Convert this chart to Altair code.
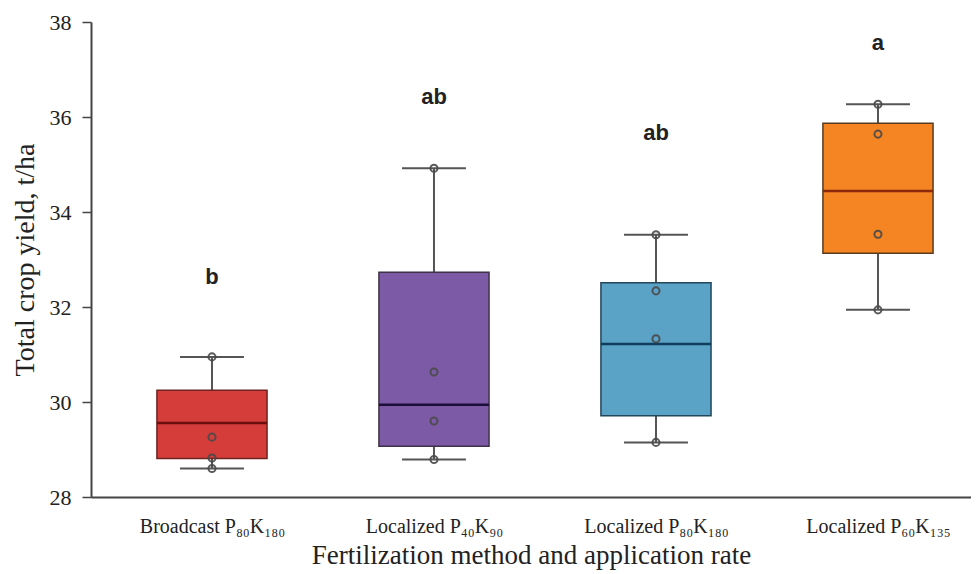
import altair as alt
import pandas as pd

categories = ["Broadcast P₈₀K₁₈₀", "Localized P₄₀K₉₀", "Localized P₈₀K₁₈₀", "Localized P₆₀K₁₃₅"]
lower = [28.60, 28.79, 29.15, 31.94]
q1 = [28.81, 29.07, 29.71, 33.13]
median = [29.56, 29.94, 31.22, 34.44]
q3 = [30.25, 32.73, 32.51, 35.87]
upper = [30.95, 34.92, 33.52, 36.27]
points = [
    [30.95, 29.26, 28.82, 28.60],
    [34.92, 30.63, 29.60, 28.79],
    [33.52, 32.34, 31.33, 29.15],
    [36.27, 35.64, 33.53, 31.94],
]
letters = ["b", "ab", "ab", "a"]
letter_y = [32.63, 36.42, 35.66, 37.56]
fills = ["#d43d3a", "#7d5aa6", "#5ba3c6", "#f58523"]
borders = ["#6e2420", "#3e3248", "#23465a", "#5a3a1e"]
medcols = ["#6a0d0d", "#1e0f3a", "#0d3e5e", "#8b2a0a"]

BOX_HALF = 0.248
CAP_HALF = 0.144

rows = []
for i, c in enumerate(categories):
    p = i + 1
    rows.append(dict(cat=c, pos=p, lo=lower[i], q1=q1[i], med=median[i], q3=q3[i], hi=upper[i],
                     bl=p - BOX_HALF, br=p + BOX_HALF, cl=p - CAP_HALF, cr=p + CAP_HALF,
                     letter=letters[i], ly=letter_y[i]))
df = pd.DataFrame(rows)
pts = pd.DataFrame([dict(cat=categories[i], pos=i + 1, v=v) for i in range(4) for v in points[i]])

xscale = alt.Scale(domain=[0.455, 4.419], nice=False, zero=False)
yscale = alt.Scale(domain=[28, 38], nice=False, zero=False)
color_fill = alt.Scale(domain=categories, range=fills)
color_border = alt.Scale(domain=categories, range=borders)
color_med = alt.Scale(domain=categories, range=medcols)

label_expr = " : ".join(
    [f"datum.value == {i+1} ? '{c}'" for i, c in enumerate(categories)]
) + " : ''"

xaxis = alt.Axis(values=[1, 2, 3, 4], labelExpr=label_expr, ticks=False, grid=False,
                 title="Fertilization method and application rate",
                 labelFont="Liberation Serif", labelFontSize=20, labelColor="#222",
                 labelPadding=19, titleFont="Liberation Serif", titleFontSize=27,
                 titleFontWeight="normal", titleColor="#222", titlePadding=6,
                 domainColor="#444", domainWidth=2)
yaxis = alt.Axis(values=[28, 30, 32, 34, 36, 38], grid=False, tickSize=9, tickColor="#444",
                 tickWidth=1.5, title="Total crop yield, t/ha",
                 labelFont="Liberation Serif", labelFontSize=22, labelColor="#222",
                 labelPadding=11, titleFont="Liberation Serif", titleFontSize=28,
                 titleFontWeight="normal", titleColor="#222", titlePadding=10,
                 domainColor="#444", domainWidth=2)

base = alt.Chart(df)

whisk = base.mark_rule(color="#555", strokeWidth=2).encode(
    x=alt.X("pos:Q", scale=xscale, axis=xaxis),
    y=alt.Y("lo:Q", scale=yscale, axis=yaxis),
    y2="hi:Q",
)
caps_lo = base.mark_rule(color="#555", strokeWidth=2).encode(
    x=alt.X("cl:Q", scale=xscale), x2="cr:Q", y=alt.Y("lo:Q", scale=yscale))
caps_hi = base.mark_rule(color="#555", strokeWidth=2).encode(
    x=alt.X("cl:Q", scale=xscale), x2="cr:Q", y=alt.Y("hi:Q", scale=yscale))
box = base.mark_rect(strokeWidth=1.5).encode(
    x=alt.X("bl:Q", scale=xscale), x2="br:Q",
    y=alt.Y("q1:Q", scale=yscale), y2="q3:Q",
    fill=alt.Fill("cat:N", scale=color_fill, legend=None),
    stroke=alt.Stroke("cat:N", scale=color_border, legend=None),
)
med = base.mark_rule(strokeWidth=2.5).encode(
    x=alt.X("bl:Q", scale=xscale), x2="br:Q",
    y=alt.Y("med:Q", scale=yscale),
    color=alt.Color("cat:N", scale=color_med, legend=None),
)
dots = alt.Chart(pts).mark_point(filled=False, size=50, strokeWidth=2, color="#4a4a4a", opacity=0.9).encode(
    x=alt.X("pos:Q", scale=xscale), y=alt.Y("v:Q", scale=yscale))
txt = base.mark_text(font="Liberation Sans", fontWeight="bold", fontSize=22, color="#222").encode(
    x=alt.X("pos:Q", scale=xscale), y=alt.Y("ly:Q", scale=yscale), text="letter:N")

chart = alt.layer(whisk, caps_lo, caps_hi, box, med, dots, txt).resolve_scale(
    color="independent", fill="independent", stroke="independent"
).properties(
    width=880, height=475,
    autosize=alt.AutoSizeParams(type="none"),
    padding={"left": 83, "top": 14, "right": 0, "bottom": 84},
    background="white",
).configure_view(stroke=None)

chart.save("out.html", embed_options={"renderer": "svg", "actions": False})
